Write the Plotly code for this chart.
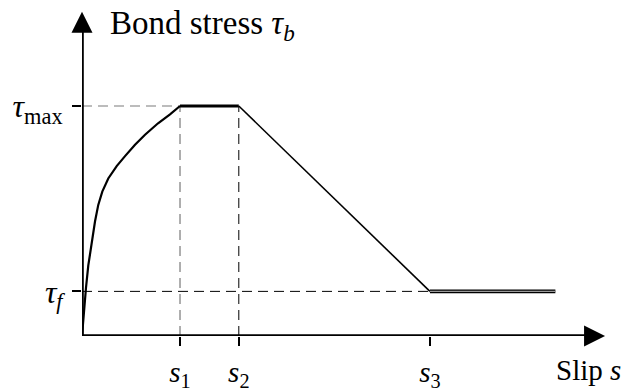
import plotly.graph_objects as go

# Bond-slip law (normalised: s1 = 1, tau_max = 1)
s1, s2, s3, s_end = 1.0, 1.6, 3.55, 4.83
tau_max, tau_f = 1.0, 0.194

# ascending branch, point by point
asc_s = [0.0, 0.020, 0.041, 0.064, 0.099, 0.133, 0.166, 0.207, 0.268,
         0.354, 0.439, 0.541, 0.643, 0.776, 0.898, 1.0]
asc_tau = [0.0, 0.125, 0.211, 0.306, 0.412, 0.499, 0.570, 0.628, 0.685,
           0.739, 0.782, 0.832, 0.875, 0.925, 0.964, 1.0]

plateau_s = [s1, s2]
plateau_tau = [tau_max, tau_max]
soft_s = [s2, s3]
soft_tau = [tau_max, tau_f]
resid_s = [s3, s_end]
resid_tau = [tau_f, tau_f]

x_ticks = [s1, s2, s3]
x_tick_text = ["<i>s</i><sub>1</sub>", "<i>s</i><sub>2</sub>", "<i>s</i><sub>3</sub>"]
y_ticks = [tau_f, tau_max]
y_tick_text = ["<i>τ</i><sub><i>f</i></sub>", "<i>τ</i><sub>max</sub>"]

x_max, y_max = 5.571, 1.461      # axis extents
x_tip, y_tip = 5.337, 1.41       # arrow tips
x_px, y_px = 98.0, 232.0         # pixels per unit along each axis

FONT = "Liberation Serif"
GREY = "#7a7a7a"

fig = go.Figure()

def seg(xs, ys, color="black", width=1.0, dash=None):
    fig.add_trace(go.Scatter(
        x=xs, y=ys, mode="lines", hoverinfo="skip", showlegend=False,
        line=dict(color=color, width=width, dash=dash),
        cliponaxis=False,
    ))

# dashed guide lines
seg([0, s1], [tau_max, tau_max], GREY, 1.2, "10px,6px")
seg([s1, s1], [0, tau_max], GREY, 1.2, "10px,6px")
seg([s2, s2], [0, tau_max], "black", 1.0, "10px,6px")
seg([0, s3], [tau_f, tau_f], "black", 1.0, "10px,6px")

# bond-slip curve
seg(asc_s, asc_tau, "black", 2.2)
seg(plateau_s, plateau_tau, "black", 3.0)
seg(soft_s, soft_tau, "black", 1.6)
seg(resid_s, resid_tau, "black", 3.6)
seg(resid_s, resid_tau, "#9a9a9a", 1.2)

# axes with arrow heads
seg([-2 / x_px, x_tip - 12 / x_px], [0, 0], "black", 3.6)
seg([0, 0], [-2 / y_px, y_tip - 12 / y_px], "black", 3.6)
fig.add_trace(go.Scatter(
    x=[x_tip, 0], y=[0, y_tip], mode="markers", hoverinfo="skip",
    showlegend=False, cliponaxis=False,
    marker=dict(symbol=["arrow-right", "arrow-up"], size=21, color="black",
                line=dict(width=0)),
))

# axis titles
fig.add_annotation(x=0.27, y=1.35, xref="x", yref="y", xanchor="left",
                   yanchor="middle", showarrow=False,
                   text="Bond stress <i>τ</i><sub><i>b</i></sub>",
                   font=dict(family=FONT, size=33, color="black"))
fig.add_annotation(x=4.82, y=-0.10, xref="x", yref="paper", xanchor="left",
                   yanchor="middle", showarrow=False,
                   text="Slip <i>s</i>",
                   font=dict(family=FONT, size=29, color="black"))

fig.update_layout(
    width=628, height=392,
    margin=dict(l=82, r=0, t=0, b=53),
    paper_bgcolor="white", plot_bgcolor="white",
    xaxis=dict(range=[0, x_max], showgrid=False, zeroline=False,
               showline=False, tickmode="array", tickvals=x_ticks,
               ticktext=x_tick_text, ticks="outside", ticklen=9,
               tickwidth=2, tickcolor="black", ticklabelstandoff=1,
               tickfont=dict(family=FONT, size=29, color="black")),
    yaxis=dict(range=[0, y_max], showgrid=False, zeroline=False,
               showline=False, tickmode="array", tickvals=y_ticks,
               ticktext=y_tick_text, ticks="outside", ticklen=9,
               tickwidth=2, tickcolor="black", ticklabelstandoff=3,
               tickfont=dict(family=FONT, size=32, color="black")),
)

fig.write_html("out.html")
